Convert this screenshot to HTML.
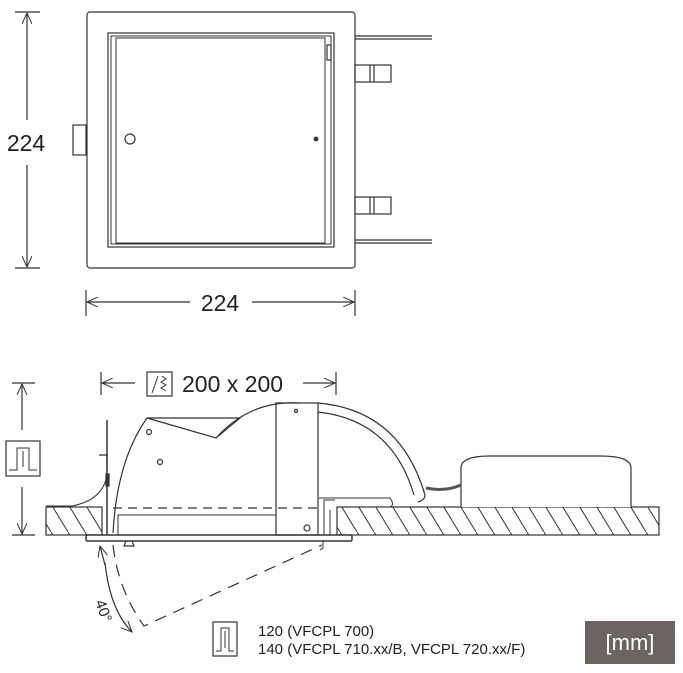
<!DOCTYPE html>
<html><head><meta charset="utf-8"><style>
html,body{margin:0;padding:0;background:#fff;}
svg{display:block;font-family:"Liberation Sans","DejaVu Sans",sans-serif;}
</style></head><body>
<svg width="683" height="673" viewBox="0 0 683 673" xmlns="http://www.w3.org/2000/svg">
<defs>
<pattern id="h" patternUnits="userSpaceOnUse" width="17" height="28">
<line x1="0" y1="0" x2="17" y2="28" stroke="#333" stroke-width="1"/>
</pattern>
<marker id="a" markerWidth="12" markerHeight="10" refX="11" refY="5" orient="auto" markerUnits="userSpaceOnUse">
<path d="M0,0 L11,5 L0,10" fill="none" stroke="#333" stroke-width="1"/></marker>
</defs>
<g stroke="#333" fill="none" stroke-width="1.2">
<!-- top view -->
<rect x="87" y="12" width="268" height="256" rx="3" fill="#fff"/>
<rect x="108" y="33" width="226" height="214"/>
<rect x="111" y="36" width="220" height="208" stroke-width="1"/>
<rect x="116" y="38" width="209" height="205" stroke-width="1"/>
<rect x="73" y="125" width="13" height="30"/>
<line x1="355" y1="36" x2="432" y2="36"/><line x1="355" y1="39" x2="432" y2="39"/>
<line x1="355" y1="240" x2="432" y2="240"/><line x1="355" y1="243" x2="432" y2="243"/>
<rect x="355" y="65" width="36" height="17"/><line x1="370" y1="65" x2="370" y2="82"/><line x1="374" y1="65" x2="374" y2="82"/>
<rect x="355" y="197" width="36" height="17"/><line x1="370" y1="197" x2="370" y2="214"/><line x1="374" y1="197" x2="374" y2="214"/>
<rect x="327" y="45" width="4" height="15"/>
<circle cx="130" cy="139" r="5"/>
<circle cx="316" cy="139" r="1.8" fill="#333"/>
<!-- dims top -->
<line x1="15" y1="12" x2="40" y2="12"/><line x1="15" y1="268" x2="40" y2="268"/>
<line x1="27" y1="120" x2="27" y2="13" marker-end="url(#a)"/>
<line x1="27" y1="165" x2="27" y2="267" marker-end="url(#a)"/>
<line x1="86" y1="290" x2="86" y2="316"/><line x1="355" y1="290" x2="355" y2="316"/>
<line x1="190" y1="302" x2="87" y2="302" marker-end="url(#a)"/>
<line x1="252" y1="302" x2="354" y2="302" marker-end="url(#a)"/>
<!-- bottom dims -->
<line x1="12" y1="383" x2="35" y2="383"/><line x1="12" y1="535" x2="35" y2="535"/>
<line x1="22" y1="430" x2="22" y2="384" marker-end="url(#a)"/>
<line x1="22" y1="487" x2="22" y2="534" marker-end="url(#a)"/>
<rect x="6" y="441" width="34" height="35"/>
<path d="M9,470 H17 V448 H29 V470 H37" stroke-width="1"/>
<line x1="23" y1="451" x2="23" y2="467" stroke-width="1"/>
<line x1="101" y1="372" x2="101" y2="395"/><line x1="336" y1="372" x2="336" y2="395"/>
<line x1="135" y1="383" x2="102" y2="383" marker-end="url(#a)"/>
<line x1="303" y1="383" x2="335" y2="383" marker-end="url(#a)"/>
<rect x="147" y="372" width="25" height="24"/>
<path d="M152,393 L158,376 M162,376 L166,379 L161,382 L166,385 L161,388 L166,391" stroke-width="1"/>
<!-- ceiling -->
<rect x="46" y="507" width="56" height="28" fill="url(#h)"/>
<rect x="337" y="507" width="322" height="28" fill="url(#h)"/>
<rect x="86" y="535" width="266" height="6" rx="1.5" stroke-width="1.5" fill="#fff"/>
<path d="M126,541 L124,546 H134 L132,541"/>
<!-- driver -->
<path d="M461,507 V468 Q461,456 490,456 H600 Q631,456 631,468 V507" fill="#fff"/>
<path d="M426,488 Q445,492 461,485" stroke="#555" stroke-width="3"/>
<!-- housing -->
<line x1="107" y1="420" x2="107" y2="535" stroke-width="1.5"/>
<path d="M107,470 V455 H99" />
<path d="M107,475 Q103,500 72,506 H46" stroke-width="1"/>
<rect x="106" y="474" width="3" height="12" fill="#333"/>
<path d="M113,533 Q117,460 147,418 L216,438 L240,418 H147"/>
<path d="M216,438 Q250,400 300,403 M240,418"/>
<rect x="276" y="403" width="42" height="132"/>
<path d="M318,403 Q400,410 425,495 Q425,500 418,502 M318,412 Q392,420 414,495"/>
<path d="M319,498 H390 Q395,505 390,507 H340" stroke-width="1"/>
<path d="M118,535 V515 H276" stroke-width="1"/>
<line x1="113" y1="508" x2="320" y2="508" stroke-dasharray="9,6"/>
<circle cx="149" cy="432" r="2.5"/><circle cx="160" cy="462" r="2.5"/><circle cx="296" cy="411" r="1.5"/><circle cx="307" cy="528" r="3"/>
<path d="M324,535 V500 H335 M330,510 V535" stroke-width="1"/>
<path d="M323,541 V548 L320,550" stroke-width="1"/>
<!-- angle -->
<path d="M113,545 Q118,590 144,626 L322,545" stroke-dasharray="12,8" stroke-width="1.2"/>
<path d="M105,563 Q110,610 132,632" marker-end="url(#a)"/>
<line x1="105" y1="565" x2="100" y2="546" marker-end="url(#a)"/>
<!-- legend -->
<rect x="213" y="622" width="24" height="34" fill="#fff"/>
<path d="M216,651 H221 V628 H229 V651 H234" stroke-width="1"/>
<line x1="225" y1="631" x2="225" y2="648" stroke-width="1"/>
</g>
<text x="26" y="151" font-size="23" text-anchor="middle" fill="#222">224</text>
<text x="220" y="311" font-size="23" text-anchor="middle" fill="#222">224</text>
<text x="182" y="392" font-size="23" fill="#222">200 x 200</text>
<text x="95" y="602" font-size="15" fill="#222" transform="rotate(70 95 602)">40°</text>
<text x="258" y="636" font-size="15" fill="#222">120 (VFCPL 700)</text>
<text x="258" y="654" font-size="15" fill="#222">140 (VFCPL 710.xx/B, VFCPL 720.xx/F)</text>
<rect x="585" y="621" width="90" height="43" fill="#6b6461"/>
<text x="630" y="650" font-size="22" fill="#fff" text-anchor="middle">[mm]</text>
</svg>
</body></html>
